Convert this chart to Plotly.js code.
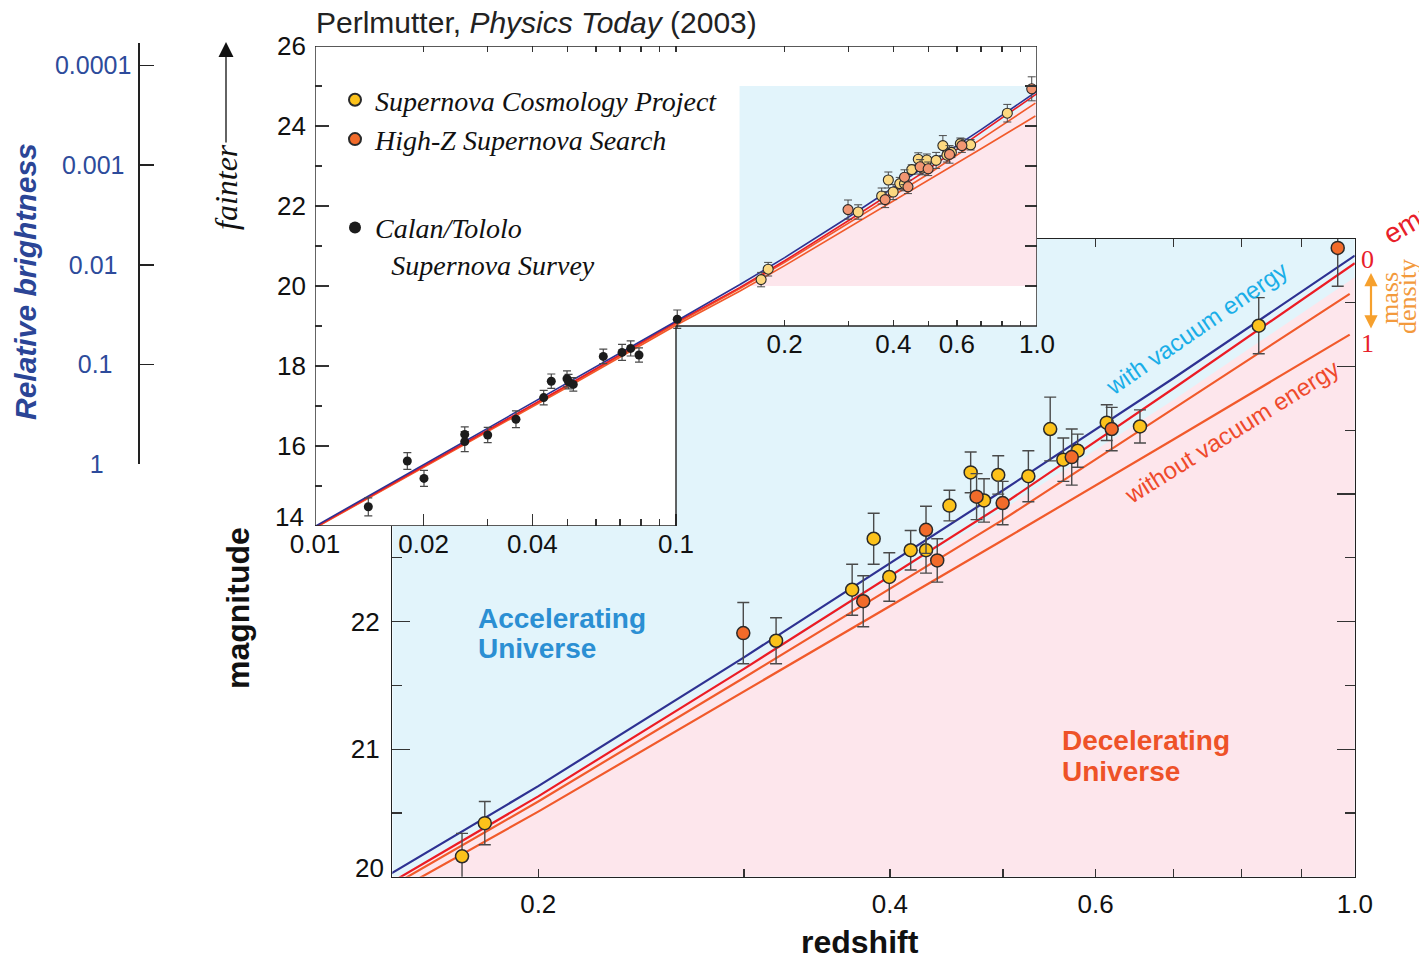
<!DOCTYPE html>
<html><head><meta charset="utf-8">
<script src="https://cdn.plot.ly/plotly-3.0.1.min.js"></script>
<style>html,body{margin:0;padding:0;background:#fff}#chart{width:1419px;height:960px}</style>
</head><body><div id="chart"></div>
<script>
// ---------------- data ----------------
// Supernova Cosmology Project
const scpZ   = [0.1721, 0.1800, 0.3196, 0.3713, 0.3874, 0.3995, 0.4167, 0.4295, 0.4498, 0.4690, 0.4815, 0.4952, 0.5255, 0.5486, 0.5630, 0.5791, 0.6133, 0.6548, 0.8275];
const scpMag = [20.16, 20.42, 21.85, 22.25, 22.65, 22.35, 22.56, 22.56, 22.91, 23.17, 22.95, 23.15, 23.14, 23.51, 23.27, 23.34, 23.56, 23.53, 24.32];
const scpErr = [0.18, 0.17, 0.18, 0.20, 0.20, 0.19, 0.155, 0.18, 0.12, 0.16, 0.17, 0.15, 0.20, 0.25, 0.17, 0.13, 0.14, 0.13, 0.22];
// High-Z Supernova Search
const hzZ   = [0.2996, 0.3795, 0.4295, 0.4391, 0.4745, 0.4995, 0.5724, 0.6193, 0.9669];
const hzMag = [21.91, 22.16, 22.72, 22.48, 22.98, 22.93, 23.29, 23.51, 24.93];
const hzErr = [0.24, 0.20, 0.185, 0.17, 0.18, 0.17, 0.22, 0.17, 0.30];
// Calan/Tololo Supernova Survey
const calZ   = [0.01405, 0.01802, 0.02004, 0.02599, 0.02599, 0.03009, 0.03603, 0.04300, 0.04514, 0.04990, 0.05038, 0.05194, 0.06289, 0.07088, 0.07489, 0.07898, 0.1008];
const calMag = [14.48, 15.625, 15.19, 16.29, 16.11, 16.275, 16.67, 17.21, 17.62, 17.68, 17.61, 17.54, 18.24, 18.34, 18.44, 18.275, 19.17];
const calErr = [0.225, 0.21, 0.20, 0.19, 0.25, 0.19, 0.21, 0.18, 0.18, 0.20, 0.18, 0.17, 0.18, 0.20, 0.19, 0.18, 0.23];
// model curves
const lineZ      = [0.01, 0.02, 0.05, 0.1, 0.15, 0.2, 0.3, 0.5, 0.7, 1.0];
const vacuumMag  = [13.99, 15.53, 17.56, 19.12, 20.03, 20.71, 21.72, 23.03, 23.91, 24.87];
const emptyMag   = [13.97, 15.50, 17.52, 19.09, 19.96, 20.63, 21.63, 22.92, 23.83, 24.81];
const lineZo     = [0.01, 0.02, 0.05, 0.1, 0.15, 0.2, 0.3, 0.5, 0.7, 0.99];
const lowMassMag = [13.96, 15.48, 17.50, 19.06, 19.93, 20.59, 21.56, 22.80, 23.67, 24.57];
const fullMassMag= [13.95, 15.46, 17.47, 19.02, 19.87, 20.51, 21.45, 22.64, 23.43, 24.25];
// accelerating / decelerating boundary
const boundZ   = [0.15, 0.2, 0.3, 0.5, 0.7, 1.0];
const boundMag = [19.96, 20.63, 21.62, 22.88, 23.74, 24.70];
// shaded window (main plot range)
const shadeZ   = [0.15, 1.0];
const shadeMag = [20, 25];
// inset extent and its cut-out corner
const insetZ   = [0.01, 1.0];
const insetMag = [14, 26];
const cutZ = 0.1, cutMag = 19;
// tick labels
const mainXTicks  = [0.2, 0.3, 0.4, 0.5, 0.6, 0.7, 0.8, 0.9, 1.0];
const mainXLabels = ['0.2', '', '0.4', '', '0.6', '', '', '', '1.0'];
const mainYTicks  = [20, 21, 22, 23, 24, 25];
const mainYLabels = ['', '21', '22', '23', '24', '25'];   // "20" is set slightly above its tick
const mainYMinor  = [20.5, 21.5, 22.5, 23.5, 24.5];
const insetLowTicks  = [0.01, 0.02, 0.04, 0.1];
const insetLowLabels = ['0.01', '0.02', '0.04', '0.1'];
const insetLowMinor  = [0.03, 0.05, 0.06, 0.07, 0.08, 0.09];
const insetHighTicks  = [0.2, 0.4, 0.6, 1.0];
const insetHighLabels = ['0.2', '0.4', '0.6', '1.0'];
const insetHighMinor  = [0.3, 0.5, 0.7, 0.8, 0.9];
const insetTopTicks = [0.02, 0.03, 0.04, 0.05, 0.06, 0.07, 0.08, 0.09, 0.1, 0.2, 0.3, 0.4, 0.5, 0.6, 0.7, 0.8, 0.9];
const insetYTicks  = [14, 16, 18, 20, 22, 24, 26];
const insetYLabels = ['', '16', '18', '20', '22', '24', '26'];  // "14" is set slightly above its tick
const insetYMinor  = [15, 17, 19, 21, 23, 25];
const insetRightTicks = [20, 21, 22, 23, 24, 25];
const brightTicks  = [0.0001, 0.001, 0.01, 0.1, 1];
const brightLabels = ['0.0001', '0.001\u00a0', '0.01\u00a0\u00a0', '0.1\u00a0\u00a0\u2009', '1\u00a0\u00a0\u00a0\u00a0'];

// ---------------- styling ----------------
const W = 1419, H = 960;
const px = v => v / W;
const py = v => 1 - v / H;
const SANS = 'Liberation Sans, Arial, Helvetica, sans-serif';
const SERIF = 'Liberation Serif, Times New Roman, serif';
const C = {
  accel: '#e2f4fb', decel: '#fde6ec', vac: '#2e3192', empty: '#ec1c24', mass: '#f15a2b',
  scp: '#fcc21b', hz: '#f26b2a', scpPale: '#fcd880', hzPale: '#f29672', cal: '#1c1c1c'
};

const traces = [];
function shade(xa, ya) {
  traces.push({type: 'scatter', mode: 'lines', xaxis: xa, yaxis: ya, hoverinfo: 'skip', showlegend: false,
    x: [shadeZ[0], shadeZ[1], shadeZ[1], shadeZ[0]], y: [shadeMag[0], shadeMag[0], shadeMag[1], shadeMag[1]],
    fill: 'toself', fillcolor: C.accel, line: {width: 0}});
  traces.push({type: 'scatter', mode: 'lines', xaxis: xa, yaxis: ya, hoverinfo: 'skip', showlegend: false,
    x: boundZ.concat([shadeZ[1], shadeZ[0]]), y: boundMag.concat([shadeMag[0], shadeMag[0]]),
    fill: 'toself', fillcolor: C.decel, line: {width: 0}});
}
function curves(xa, ya, w) {
  [[lineZo, fullMassMag, C.mass], [lineZo, lowMassMag, C.mass], [lineZ, emptyMag, C.empty], [lineZ, vacuumMag, C.vac]]
    .forEach(([xs, ys, col]) => traces.push({type: 'scatter', mode: 'lines', xaxis: xa, yaxis: ya, x: xs, y: ys,
      line: {color: col, width: w}, hoverinfo: 'skip', showlegend: false}));
}
function pts(xs, ys, es, xa, ya, col, size, lw, ew, cw, name, grp, show) {
  traces.push({type: 'scatter', mode: 'markers', xaxis: xa, yaxis: ya, x: xs, y: ys, name: name,
    legendgroup: grp, showlegend: show, hoverinfo: 'skip',
    error_y: {type: 'data', array: es, visible: true, color: '#4a4a4a', thickness: ew, width: cw},
    marker: {size: size, color: col, line: {color: '#2a2a2a', width: lw}}});
}

// main plot
shade('x', 'y');
curves('x', 'y', 2.2);
pts(scpZ, scpMag, scpErr, 'x', 'y', C.scp, 13, 1.5, 1.4, 6, 'Supernova Cosmology Project', 'a', true);
pts(hzZ, hzMag, hzErr, 'x', 'y', C.hz, 13, 1.5, 1.4, 6, 'High-Z Supernova Search', 'a', true);

// inset: white L-shaped background
traces.push({type: 'scatter', mode: 'lines', xaxis: 'x2', yaxis: 'y2', hoverinfo: 'skip', showlegend: false,
  x: [insetZ[0], insetZ[1], insetZ[1], cutZ, cutZ, insetZ[0]],
  y: [insetMag[1], insetMag[1], cutMag, cutMag, insetMag[0], insetMag[0]],
  fill: 'toself', fillcolor: '#ffffff', line: {width: 0}});
shade('x2', 'y2');
curves('x2', 'y2', 1.6);
pts(calZ, calMag, calErr, 'x2', 'y2', C.cal, 9, 0, 1.2, 4, 'Calan/Tololo<br>\u00a0\u00a0\u200aSupernova Survey', 'b', true);
pts(scpZ, scpMag, scpErr, 'x2', 'y2', C.scpPale, 10, 1.1, 1.0, 4, 'scp-inset', 'a', false);
pts(hzZ, hzMag, hzErr, 'x2', 'y2', C.hzPale, 10, 1.1, 1.0, 4, 'hz-inset', 'a', false);

// empty carriers for the extra axes
[['x3', 'y2'], ['x4', 'y2'], ['x2', 'y3'], ['x5', 'y4']].forEach(([xa, ya]) =>
  traces.push({type: 'scatter', mode: 'markers', x: [], y: [], xaxis: xa, yaxis: ya, showlegend: false, hoverinfo: 'skip'}));

const tickFont = {family: SANS, size: 26, color: '#111'};
const inDom = {x: [px(315), px(1037)], y: [py(526), py(46)]};

const shapes = [];
const frame = [[insetZ[0], insetMag[1], insetZ[1], insetMag[1]], [insetZ[1], insetMag[1], insetZ[1], cutMag],
  [insetZ[1], cutMag, cutZ, cutMag], [cutZ, cutMag, cutZ, insetMag[0]], [cutZ, insetMag[0], insetZ[0], insetMag[0]],
  [insetZ[0], insetMag[0], insetZ[0], insetMag[1]]];
frame.forEach(([a, b, c, d]) => shapes.push({type: 'line', xref: 'x2', yref: 'y2', x0: a, y0: b, x1: c, y1: d,
  layer: 'above', line: {color: '#222', width: 1.4}}));

function ann(x, y, text, font, extra) {
  return Object.assign({xref: 'paper', yref: 'paper', x: px(x), y: py(y), text: text, showarrow: false,
    xanchor: 'center', yanchor: 'middle', font: font}, extra || {});
}
const annotations = [
  ann(26, 282, '<b><i>Relative brightness</i></b>', {family: SANS, size: 30, color: '#2b4596'}, {textangle: -90}),
  ann(226, 42, '<i>fainter</i>', {family: SERIF, size: 32, color: '#111'},
    {showarrow: true, ax: 0, ay: 145, arrowhead: 2, arrowsize: 2.3, arrowwidth: 1.3, arrowcolor: '#111', textangle: -90}),
  ann(238, 608, '<b>magnitude</b>', {family: SANS, size: 32, color: '#111'}, {textangle: -90}),
  ann(860, 942, '<b>redshift</b>', {family: SANS, size: 32, color: '#111'}),
  ann(386, 868, '20', tickFont, {xanchor: 'right'}),
  ann(306, 517, '14', tickFont, {xanchor: 'right'}),
  ann(476, 618, '<b>Accelerating</b>', {family: SANS, size: 28, color: '#2b8fd3'}, {xanchor: 'left'}),
  ann(476, 648, '<b>Universe</b>', {family: SANS, size: 28, color: '#2b8fd3'}, {xanchor: 'left'}),
  ann(1060, 740, '<b>Decelerating</b>', {family: SANS, size: 28, color: '#ee5228'}, {xanchor: 'left'}),
  ann(1060, 771, '<b>Universe</b>', {family: SANS, size: 28, color: '#ee5228'}, {xanchor: 'left'}),
  ann(1196, 328, 'with vacuum energy', {family: SANS, size: 24, color: '#19aee8'}, {textangle: -34.5}),
  ann(1232, 432, 'without vacuum energy', {family: SANS, size: 24, color: '#ef4a2c'}, {textangle: -32}),
  ann(1367, 259, '0', {family: SERIF, size: 26, color: '#e8202a'}),
  ann(1367, 343, '1', {family: SERIF, size: 26, color: '#e8202a'}),
  ann(1371, 273, '', {family: SANS, size: 10, color: '#f6a02d'},
    {showarrow: true, ax: 0, ay: 57, arrowhead: 2, startarrowhead: 2, arrowside: 'end+start', arrowsize: 1.2, arrowwidth: 2.2, arrowcolor: '#f6a02d'}),
  ann(1389, 298, 'mass', {family: SERIF, size: 26, color: '#f39a3d'}, {textangle: -90}),
  ann(1408, 297, 'density', {family: SERIF, size: 26, color: '#f39a3d'}, {textangle: -90}),
  ann(1419, 218, 'empty', {family: SANS, size: 28, color: '#e8202a'}, {textangle: -30})
];

const common = {showgrid: false, zeroline: false, tickcolor: '#333', tickwidth: 1.3, tickfont: tickFont};
const layout = {
  width: W, height: H, margin: {l: 0, r: 0, t: 0, b: 0},
  paper_bgcolor: '#ffffff', plot_bgcolor: 'rgba(0,0,0,0)', hovermode: false,
  font: {family: SANS, color: '#111'},
  title: {text: 'Perlmutter, <i>Physics Today</i> (2003)', xref: 'paper', yref: 'paper', x: px(316), xanchor: 'left',
    y: py(22), yanchor: 'middle', font: {family: SANS, size: 30, color: '#222'}},
  showlegend: true,
  legend: {x: px(335), y: py(75), xanchor: 'left', yanchor: 'top', bgcolor: 'rgba(0,0,0,0)', borderwidth: 0,
    font: {family: SERIF, size: 28, style: 'italic', color: '#111'}, itemsizing: 'constant', traceorder: 'grouped',
    tracegroupgap: 49, valign: 'top', itemwidth: 30},
  xaxis: Object.assign({}, common, {type: 'log', range: [Math.log10(shadeZ[0]), 0], domain: [px(392.3), px(1354.8)], anchor: 'y',
    showline: true, linecolor: '#222', linewidth: 1.4, mirror: 'ticks', ticks: 'inside', ticklen: 8,
    tickvals: mainXTicks, ticktext: mainXLabels, ticklabelstandoff: 4}),
  yaxis: Object.assign({}, common, {range: shadeMag, domain: [py(876.7), py(239)], anchor: 'x',
    showline: true, linecolor: '#222', linewidth: 1.4, mirror: 'ticks', ticks: 'inside', ticklen: 18,
    tickvals: mainYTicks, ticktext: mainYLabels, ticklabelstandoff: 6,
    minor: {tickvals: mainYMinor, ticks: 'inside', ticklen: 10, tickcolor: '#333', tickwidth: 1.3}}),
  xaxis2: Object.assign({}, common, {type: 'log', range: [-2, 0], domain: inDom.x, anchor: 'y2', showline: false,
    ticks: 'inside', ticklen: 12, tickvals: insetLowTicks, ticktext: insetLowLabels, ticklabelstandoff: 0,
    minor: {tickvals: insetLowMinor, ticks: 'inside', ticklen: 7, tickcolor: '#333', tickwidth: 1.2}}),
  xaxis3: Object.assign({}, common, {type: 'log', range: [-2, 0], overlaying: 'x2', anchor: 'free', position: py(326),
    showline: false, ticks: 'inside', ticklen: 6, tickvals: insetHighTicks, ticktext: insetHighLabels, ticklabelstandoff: 0,
    minor: {tickvals: insetHighMinor, ticks: 'inside', ticklen: 5, tickcolor: '#333', tickwidth: 1.2}}),
  xaxis4: Object.assign({}, common, {type: 'log', range: [-2, 0], overlaying: 'x2', anchor: 'y2', side: 'top',
    showline: false, ticks: 'inside', ticklen: 6, tickvals: insetTopTicks, showticklabels: false}),
  yaxis2: Object.assign({}, common, {range: insetMag, domain: inDom.y, anchor: 'x2', showline: false,
    ticks: 'inside', ticklen: 14, tickvals: insetYTicks, ticktext: insetYLabels, ticklabelstandoff: 8,
    minor: {tickvals: insetYMinor, ticks: 'inside', ticklen: 7, tickcolor: '#333', tickwidth: 1.2}}),
  yaxis3: Object.assign({}, common, {range: insetMag, overlaying: 'y2', anchor: 'x2', side: 'right', showline: false,
    ticks: 'inside', ticklen: 12, tickvals: insetRightTicks, showticklabels: false}),
  xaxis5: {visible: false, domain: [px(140), px(200)], anchor: 'y4', range: [0, 1]},
  yaxis4: Object.assign({}, common, {type: 'log', range: [0, -4.2206], domain: [py(464.3), py(43.3)], anchor: 'x5',
    showline: true, linecolor: '#222', linewidth: 1.6, ticks: 'inside', ticklen: 14, tickwidth: 1.5, tickcolor: '#222',
    tickvals: brightTicks, ticktext: brightLabels, ticklabelstandoff: 2,
    tickfont: {family: SANS, size: 25, color: '#2d4b9b'}}),
  shapes: shapes,
  annotations: annotations
};

Plotly.newPlot('chart', traces, layout, {displayModeBar: false, staticPlot: true});
</script></body></html>
